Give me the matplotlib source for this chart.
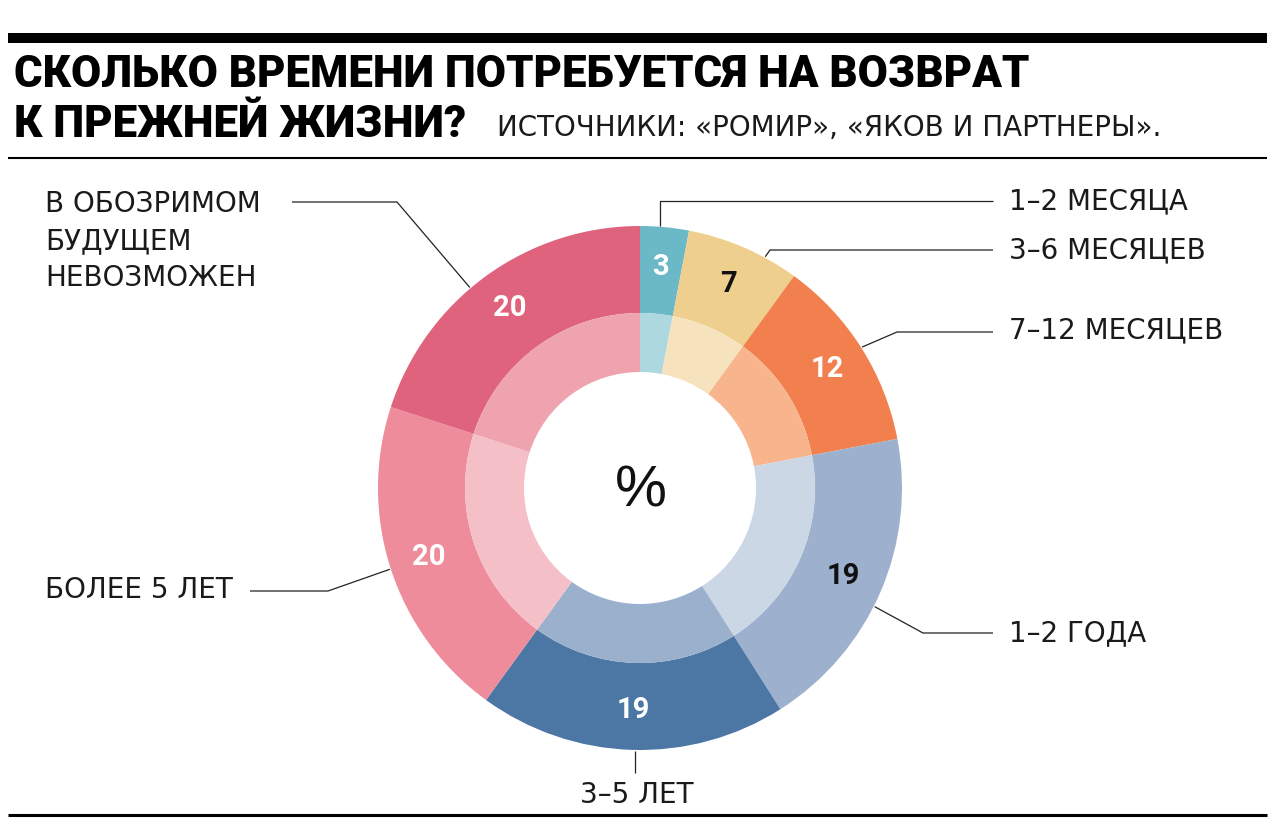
import numpy as np
import matplotlib
matplotlib.use("Agg")
import matplotlib.pyplot as plt

# Данные
categories = ["1–2 МЕСЯЦА", "3–6 МЕСЯЦЕВ", "7–12 МЕСЯЦЕВ", "1–2 ГОДА",
              "3–5 ЛЕТ", "БОЛЕЕ 5 ЛЕТ", "В ОБОЗРИМОМ\nБУДУЩЕМ\nНЕВОЗМОЖЕН"]
values = [3, 7, 12, 19, 19, 20, 20]

outer_colors = ["#6bb8c6", "#eecf8e", "#f2804e", "#9db1ce", "#4c76a4", "#ee8c9c", "#e0637e"]
inner_colors = ["#aed8df", "#f6e3be", "#f8b48d", "#ccd7e6", "#9ab0cc", "#f5bfc8", "#eea3ae"]
number_colors = ["white", "#111111", "white", "#111111", "white", "white", "white"]

title_1 = "СКОЛЬКО ВРЕМЕНИ ПОТРЕБУЕТСЯ НА ВОЗВРАТ"
title_2 = "К ПРЕЖНЕЙ ЖИЗНИ?"
source = "ИСТОЧНИКИ: «РОМИР», «ЯКОВ И ПАРТНЕРЫ»."

W, H = 1280, 833
plt.rcParams['font.family'] = ['Roboto', 'DejaVu Sans']
label_font = ['DejaVu Sans']

fig = plt.figure(figsize=(W / 100, H / 100), dpi=100)
ax = fig.add_axes([0, 0, 1, 1])

# Центр и радиусы в пикселях (ось y вверх)
cx, cy = 640, H - 488
r_out, r_mid, r_in = 262, 175, 116

wedges, _, numbers = ax.pie(values, radius=r_out, center=(cx, cy), startangle=90,
                            counterclock=False, colors=outer_colors,
                            autopct=lambda p: f"{p:.0f}", pctdistance=222 / r_out,
                            wedgeprops=dict(width=r_out - r_mid, edgecolor='none'),
                            textprops=dict(fontsize=21, fontweight='bold'))
for t, c in zip(numbers, number_colors):
    t.set_color(c)

ax.pie(values, radius=r_mid, center=(cx, cy), startangle=90, counterclock=False,
       colors=inner_colors, wedgeprops=dict(width=r_mid - r_in, edgecolor='none'))

ax.text(cx + 1, cy - 3, "%", ha='center', va='center', fontsize=42,
        color="#111111", family=['Liberation Sans'])

# Выноски: доля внутри сегмента, излом, конец линии, положение подписи
anchor_frac = [0.4, 0.7, 0.5, 0.55, 0.49, 0.5, 0.44]
layout = [
    (None, 201, (993, 201), (1009, 201, 'left')),
    ((770, 250), None, (993, 250), (1009, 250, 'left')),
    ((897, 332), None, (993, 332), (1009, 330, 'left')),
    ((923, 633), None, (993, 633), (1009, 633, 'left')),
    (None, None, (None, 773), (637, 795, 'center')),
    ((328, 591), None, (250, 591), (45, 590, 'left')),
    ((397, 202), None, (292, 202), (45, 190, 'left')),
]

cum = np.cumsum([0] + values[:-1])
total = sum(values)
for i, (elbow, elbow_y, end, lab) in enumerate(layout):
    frac = (cum[i] + values[i] * anchor_frac[i]) / total
    ang = np.deg2rad(90 - 360 * frac)
    ax_ = cx + (r_out + 1) * np.cos(ang)
    ay_ = cy + (r_out + 1) * np.sin(ang)
    xs, ys = [ax_], [ay_]
    if elbow is not None:
        xs.append(elbow[0]); ys.append(H - elbow[1])
    elif elbow_y is not None:
        xs.append(ax_); ys.append(H - elbow_y)
    ex = ax_ if end[0] is None else end[0]
    xs.append(ex); ys.append(H - end[1])
    ax.plot(xs, ys, color="#222222", lw=0.9, solid_capstyle='butt')
    lx, ly, ha = lab
    if "\n" in categories[i]:
        ax.text(lx, H - ly, categories[i], ha=ha, va='top', fontsize=20,
                color="#1a1a1a", linespacing=1.4, family=label_font)
    else:
        ax.text(lx, H - ly, categories[i], ha=ha, va='center', fontsize=20,
                color="#1a1a1a", family=label_font)

# Заголовок и линии
ax.plot([8, 1267], [H - 38, H - 38], color="black", lw=7.2, solid_capstyle='butt')
ax.text(14, H - 75, title_1, ha='left', va='center', fontsize=31.5, fontweight='black',
        color="black")
ax.text(14, H - 125, title_2, ha='left', va='center', fontsize=31.5, fontweight='black',
        color="black")
ax.text(497, H - 128, source, ha='left', va='center', fontsize=20, color="#1a1a1a",
        family=label_font)
ax.plot([8, 1267], [H - 158, H - 158], color="black", lw=1.5, solid_capstyle='butt')
ax.plot([8, 1267], [H - 815, H - 815], color="black", lw=2.2, solid_capstyle='butt')

ax.set_xlim(0, W)
ax.set_ylim(0, H)
ax.set_aspect('auto')
ax.axis('off')

fig.savefig("out.png", dpi=100, facecolor="white")
